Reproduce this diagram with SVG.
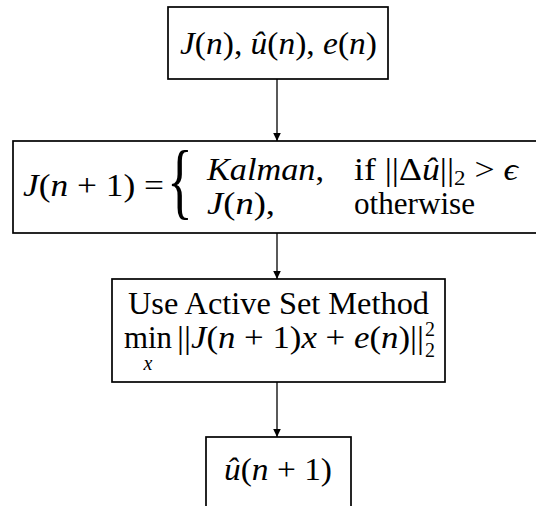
<svg xmlns="http://www.w3.org/2000/svg" width="536" height="506" viewBox="0 0 536 506">
<defs>
<marker id="arr" markerWidth="8" markerHeight="10" refX="8" refY="5" orient="auto" markerUnits="userSpaceOnUse">
<path d="M0,1.2 L8,5 L0,8.8 Z" fill="#000"/>
</marker>
<style>
.box{fill:#fff;stroke:#000;stroke-width:1.7}
.con{stroke:#000;stroke-width:1.3;fill:none}
text{font-family:"Liberation Serif","Times New Roman",serif;fill:#000;font-size:31px}
.i{font-style:italic}
.s{font-size:20px}
</style>
</defs>
<rect width="536" height="506" fill="#fff"/>
<g id="connectors">
<line class="con" x1="277" y1="79" x2="277" y2="141" marker-end="url(#arr)"/>
<line class="con" x1="277" y1="233" x2="277" y2="279" marker-end="url(#arr)"/>
<line class="con" x1="277" y1="382" x2="277" y2="437" marker-end="url(#arr)"/>
</g>
<g id="node1">
<rect class="box" x="168" y="7" width="220" height="72"/>
<text x="180" y="54" textLength="197" lengthAdjust="spacingAndGlyphs"><tspan class="i">J</tspan>(<tspan class="i">n</tspan>), <tspan class="i">û</tspan>(<tspan class="i">n</tspan>), <tspan class="i">e</tspan>(<tspan class="i">n</tspan>)</text>
</g>
<g id="node2">
<rect class="box" x="13" y="141" width="540" height="92"/>
<text x="23" y="196" textLength="141" lengthAdjust="spacingAndGlyphs"><tspan class="i">J</tspan>(<tspan class="i">n</tspan> + 1) =</text>
<text x="0" y="0" style="font-size:84px" transform="translate(167,209) scale(0.64,1)">{</text>
<text x="207" y="180" textLength="117" lengthAdjust="spacingAndGlyphs"><tspan class="i">Kalman</tspan>,</text>
<text x="354" y="180" textLength="164" lengthAdjust="spacingAndGlyphs">if ||Δ<tspan class="i">û</tspan>||<tspan class="s" dy="5">2</tspan><tspan dy="-5"> &gt; </tspan><tspan class="i">ϵ</tspan></text>
<text x="207" y="214" textLength="68" lengthAdjust="spacingAndGlyphs"><tspan class="i">J</tspan>(<tspan class="i">n</tspan>),</text>
<text x="354" y="214" textLength="121" lengthAdjust="spacingAndGlyphs">otherwise</text>
</g>
<g id="node3">
<rect class="box" x="112" y="279" width="333" height="103"/>
<text x="128" y="314" textLength="301" lengthAdjust="spacingAndGlyphs">Use Active Set Method</text>
<text x="124" y="348" textLength="48" lengthAdjust="spacingAndGlyphs">min</text>
<text x="148" y="370" class="i s" text-anchor="middle">x</text>
<text x="177" y="348" textLength="247" lengthAdjust="spacingAndGlyphs">||<tspan class="i">J</tspan>(<tspan class="i">n</tspan> + 1)<tspan class="i">x</tspan> + <tspan class="i">e</tspan>(<tspan class="i">n</tspan>)||</text>
<text x="425" y="336" class="s">2</text>
<text x="425" y="357" class="s">2</text>
</g>
<g id="node4">
<rect class="box" x="206" y="437" width="145" height="100"/>
<text x="224" y="480" textLength="108" lengthAdjust="spacingAndGlyphs"><tspan class="i">û</tspan>(<tspan class="i">n</tspan> + 1)</text>
</g>
</svg>
